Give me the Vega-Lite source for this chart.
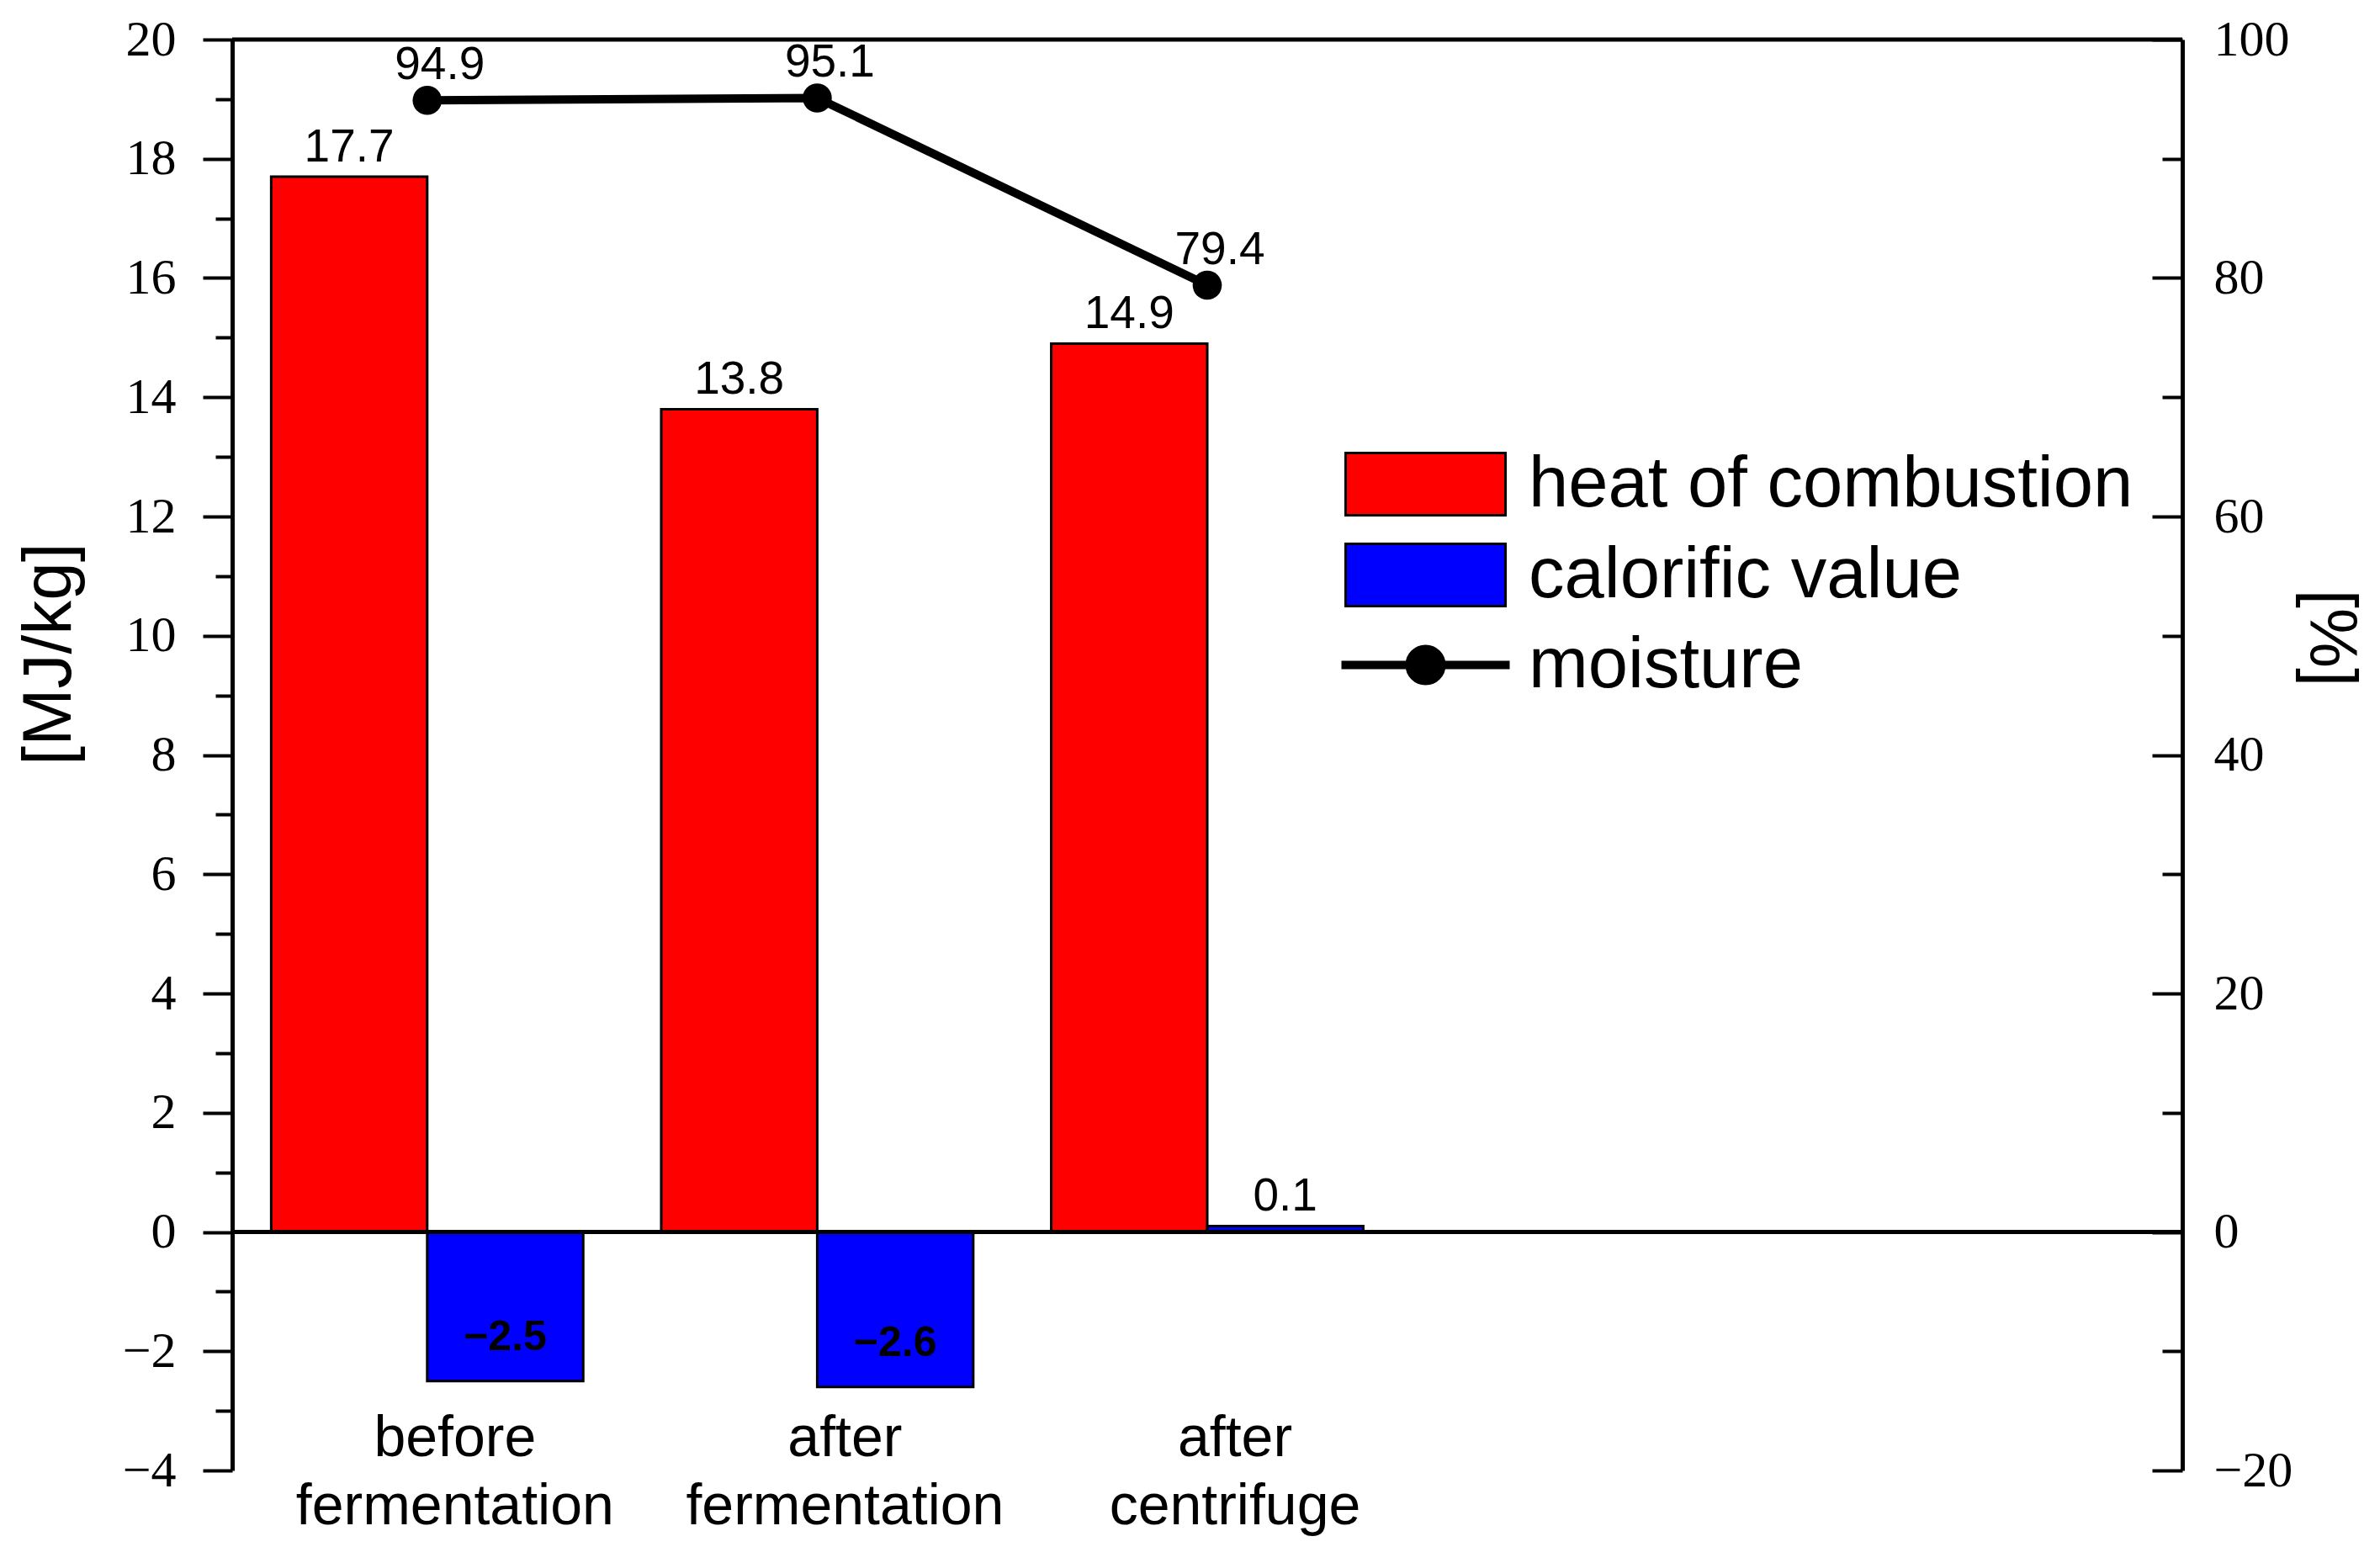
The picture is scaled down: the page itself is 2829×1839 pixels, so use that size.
{
  "$schema": "https://vega.github.io/schema/vega-lite/v6.json",
  "autosize": {"type": "none"},
  "padding": {"left": 276, "top": 47, "right": 235, "bottom": 91},
  "width": 2318,
  "height": 1701,
  "background": "white",
  "config": {
    "view": {"stroke": null},
    "axis": {"grid": false, "domainColor": "black", "tickColor": "black", "labelColor": "black", "titleColor": "black"}
  },
  "datasets": {
    "bars": [
      {"stage": "before fermentation", "series": "heat of combustion", "value": 17.7},
      {"stage": "before fermentation", "series": "calorific value", "value": -2.5},
      {"stage": "after fermentation", "series": "heat of combustion", "value": 13.8},
      {"stage": "after fermentation", "series": "calorific value", "value": -2.6},
      {"stage": "after centrifuge", "series": "heat of combustion", "value": 14.9},
      {"stage": "after centrifuge", "series": "calorific value", "value": 0.1}
    ],
    "moist": [
      {"stage": "before fermentation", "moisture": 94.9},
      {"stage": "after fermentation", "moisture": 95.1},
      {"stage": "after centrifuge", "moisture": 79.4}
    ]
  },
  "resolve": {"scale": {"y": "independent"}},
  "layer": [
    {
      "data": {"name": "bars"},
      "layer": [
        {
          "mark": {"type": "bar", "stroke": "black", "strokeWidth": 3},
          "encoding": {
            "x": {"field": "stage", "type": "nominal", "title": null,
              "scale": {"domain": ["before fermentation", "after fermentation", "after centrifuge", " ", "  "], "paddingInner": 0.2, "paddingOuter": 0.1},
              "axis": {"labelExpr": "split(datum.label, ' ')", "domain": false, "ticks": false, "labelAngle": 0, "labelFont": "Liberation Sans", "labelFontSize": 68, "labelLineHeight": 81, "labelPadding": -72, "labelLimit": 2000, "labelOffset": 33}},
            "xOffset": {"field": "series", "scale": {"domain": ["heat of combustion", "calorific value"], "paddingInner": 0, "paddingOuter": 0}},
            "y": {"field": "value", "type": "quantitative", "title": "[MJ/kg]",
              "scale": {"domain": [-4, 20], "nice": false, "zero": false},
              "axis": {"values": [-4, -2, 0, 2, 4, 6, 8, 10, 12, 14, 16, 18, 20],
                "format": "d", "tickSize": 35, "tickWidth": 4, "domainWidth": 5,
                "labelFont": "Liberation Serif", "labelFontSize": 60, "labelPadding": 32,
                "titleFont": "Liberation Sans", "titleFontSize": 82, "titleFontWeight": "normal",
                "titleX": -193, "titleY": 730, "titleBaseline": "alphabetic", "titleAlign": "center", "titleAngle": -90}},
            "color": {"field": "series", "type": "nominal",
              "scale": {"domain": ["heat of combustion", "calorific value", "moisture"], "range": ["#ff0000", "#0000ff", "#000000"]},
              "legend": {"title": null, "orient": "none", "legendX": 1376, "legendY": 486, "padding": 0,
                "labelFont": "Liberation Sans", "labelFontSize": 85, "labelColor": "black", "labelOffset": 80, "labelLimit": 2000,
                "symbolSize": 10000, "symbolType": "M-1.9,-0.74H1.9V0.74H-1.9Z", "symbolStrokeColor": "black", "symbolStrokeWidth": 3, "symbolOpacity": 1, "rowPadding": 21,
                "encode": {"symbols": {"update": {
                  "shape": {"signal": "datum.value === 'moisture' ? 'M-2,0H2M0.38,0A0.38,0.38 0 1,1 -0.38,0A0.38,0.38 0 1,1 0.38,0Z' : 'M-1.9,-0.74H1.9V0.74H-1.9Z'"},
                  "strokeWidth": {"signal": "datum.value === 'moisture' ? 10 : 3"}}}}}}
          }
        },
        {
          "transform": [{"filter": "datum.value >= 0"}],
          "mark": {"type": "text", "font": "Liberation Sans", "fontSize": 55, "baseline": "alphabetic", "dy": -18, "color": "black"},
          "encoding": {
            "x": {"field": "stage", "type": "nominal", "title": null,
              "scale": {"domain": ["before fermentation", "after fermentation", "after centrifuge", " ", "  "], "paddingInner": 0.2, "paddingOuter": 0.1},
              "axis": {"labelExpr": "split(datum.label, ' ')", "domain": false, "ticks": false, "labelAngle": 0, "labelFont": "Liberation Sans", "labelFontSize": 68, "labelLineHeight": 81, "labelPadding": -72, "labelLimit": 2000, "labelOffset": 33}},
            "xOffset": {"field": "series", "scale": {"domain": ["heat of combustion", "calorific value"], "paddingInner": 0, "paddingOuter": 0}},
            "y": {"field": "value", "type": "quantitative"},
            "text": {"field": "value", "type": "quantitative", "format": ".1f"}
          }
        },
        {
          "transform": [{"filter": "datum.value < 0"}],
          "mark": {"type": "text", "font": "Liberation Sans", "fontSize": 50, "fontWeight": "bold", "baseline": "middle", "dy": -52, "color": "black"},
          "encoding": {
            "x": {"field": "stage", "type": "nominal", "title": null,
              "scale": {"domain": ["before fermentation", "after fermentation", "after centrifuge", " ", "  "], "paddingInner": 0.2, "paddingOuter": 0.1},
              "axis": {"labelExpr": "split(datum.label, ' ')", "domain": false, "ticks": false, "labelAngle": 0, "labelFont": "Liberation Sans", "labelFontSize": 68, "labelLineHeight": 81, "labelPadding": -72, "labelLimit": 2000, "labelOffset": 33}},
            "xOffset": {"field": "series", "scale": {"domain": ["heat of combustion", "calorific value"], "paddingInner": 0, "paddingOuter": 0}},
            "y": {"field": "value", "type": "quantitative"},
            "text": {"field": "value", "type": "quantitative", "format": ".1f"}
          }
        },
        {
          "data": {"values": [{"level": 0}, {"level": 20}]},
          "mark": {"type": "rule", "color": "black", "strokeWidth": 5},
          "encoding": {"y": {"field": "level", "type": "quantitative"}}
        }
      ]
    },
    {
      "data": {"name": "moist"},
      "layer": [
        {
          "mark": {"type": "line", "color": "black", "strokeWidth": 10},
          "encoding": {
            "x": {"field": "stage", "type": "nominal", "title": null,
              "scale": {"domain": ["before fermentation", "after fermentation", "after centrifuge", " ", "  "], "paddingInner": 0.2, "paddingOuter": 0.1},
              "axis": {"labelExpr": "split(datum.label, ' ')", "domain": false, "ticks": false, "labelAngle": 0, "labelFont": "Liberation Sans", "labelFontSize": 68, "labelLineHeight": 81, "labelPadding": -72, "labelLimit": 2000, "labelOffset": 33}},
            "y": {"field": "moisture", "type": "quantitative", "title": "[%]",
              "scale": {"domain": [-20, 100], "nice": false, "zero": false},
              "axis": {"orient": "right", "values": [-20, 0, 20, 40, 60, 80, 100],
                "tickSize": -36, "tickWidth": 4, "domainWidth": 5,
                "labelFont": "Liberation Serif", "labelFontSize": 60, "labelPadding": 73,
                "titleFont": "Liberation Sans", "titleFontSize": 80, "titleFontWeight": "normal",
                "titleX": 151, "titleY": 711, "titleBaseline": "alphabetic", "titleAlign": "center", "titleAngle": 90}}
          }
        },
        {
          "mark": {"type": "point", "filled": true, "color": "black", "size": 1200, "opacity": 1},
          "encoding": {
            "x": {"field": "stage", "type": "nominal", "title": null,
              "scale": {"domain": ["before fermentation", "after fermentation", "after centrifuge", " ", "  "], "paddingInner": 0.2, "paddingOuter": 0.1},
              "axis": {"labelExpr": "split(datum.label, ' ')", "domain": false, "ticks": false, "labelAngle": 0, "labelFont": "Liberation Sans", "labelFontSize": 68, "labelLineHeight": 81, "labelPadding": -72, "labelLimit": 2000, "labelOffset": 33}},
            "y": {"field": "moisture", "type": "quantitative"}
          }
        },
        {
          "mark": {"type": "text", "font": "Liberation Sans", "fontSize": 55, "baseline": "alphabetic", "dy": -25, "dx": 15, "color": "black"},
          "encoding": {
            "x": {"field": "stage", "type": "nominal", "title": null,
              "scale": {"domain": ["before fermentation", "after fermentation", "after centrifuge", " ", "  "], "paddingInner": 0.2, "paddingOuter": 0.1},
              "axis": {"labelExpr": "split(datum.label, ' ')", "domain": false, "ticks": false, "labelAngle": 0, "labelFont": "Liberation Sans", "labelFontSize": 68, "labelLineHeight": 81, "labelPadding": -72, "labelLimit": 2000, "labelOffset": 33}},
            "y": {"field": "moisture", "type": "quantitative"},
            "text": {"field": "moisture", "type": "quantitative", "format": ".1f"}
          }
        }
      ]
    },
    {
      "data": {"name": "bars"},
      "mark": {"type": "rule", "opacity": 0},
      "encoding": {
        "y": {"field": "value", "type": "quantitative", "title": null,
          "scale": {"domain": [-4, 20], "nice": false, "zero": false},
          "axis": {"orient": "left", "values": [-3, -1, 1, 3, 5, 7, 9, 11, 13, 15, 17, 19],
            "labels": false, "domain": false, "tickSize": 20, "tickWidth": 4}}
      }
    },
    {
      "data": {"name": "moist"},
      "mark": {"type": "rule", "opacity": 0},
      "encoding": {
        "y": {"field": "moisture", "type": "quantitative", "title": null,
          "scale": {"domain": [-20, 100], "nice": false, "zero": false},
          "axis": {"orient": "right", "values": [-10, 10, 30, 50, 70, 90],
            "labels": false, "domain": false, "tickSize": -24, "tickWidth": 4}}
      }
    }
  ]
}
